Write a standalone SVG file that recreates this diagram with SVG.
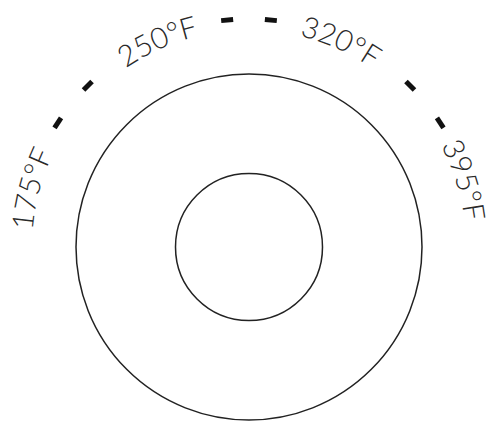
<svg xmlns="http://www.w3.org/2000/svg" xmlns:xlink="http://www.w3.org/1999/xlink" width="492" height="424" viewBox="0 0 492 424">
<style>
.ring{fill:none;stroke:#222;stroke-width:1.5}
.tick{fill:#111}
.lbl{font-family:Lato,"Open Sans","Liberation Sans",sans-serif;font-weight:300;font-size:29.5px;fill:#2a2a2a;text-anchor:middle}
</style>
<defs>
<path id="arc" d="M32,247 A217,217 0 0 1 466,247 A217,217 0 0 1 32,247"/>
</defs>
<rect width="492" height="424" fill="#fff"/>
<g id="outer-ring"><circle class="ring" cx="249" cy="247" r="173"/></g>
<g id="inner-ring"><circle class="ring" cx="249" cy="247" r="73.5"/></g>
<g id="ticks">
<rect class="tick" x="243" y="16.5" width="12" height="5" transform="rotate(-57 249 247)"/>
<rect class="tick" x="243" y="16.5" width="12" height="5" transform="rotate(-45 249 247)"/>
<rect class="tick" x="243" y="16.5" width="12" height="5" transform="rotate(-5.5 249 247)"/>
<rect class="tick" x="243" y="16.5" width="12" height="5" transform="rotate(5.5 249 247)"/>
<rect class="tick" x="243" y="16.5" width="12" height="5" transform="rotate(45 249 247)"/>
<rect class="tick" x="243" y="16.5" width="12" height="5" transform="rotate(57 249 247)"/>
</g>
<g id="labels">
<text class="lbl"><textPath xlink:href="#arc" startOffset="56.8">175°F</textPath></text>
<text class="lbl"><textPath xlink:href="#arc" startOffset="250">250°F</textPath></text>
<text class="lbl"><textPath xlink:href="#arc" startOffset="431.8">320°F</textPath></text>
<text class="lbl"><textPath xlink:href="#arc" startOffset="616">395°F</textPath></text>
</g>
</svg>
